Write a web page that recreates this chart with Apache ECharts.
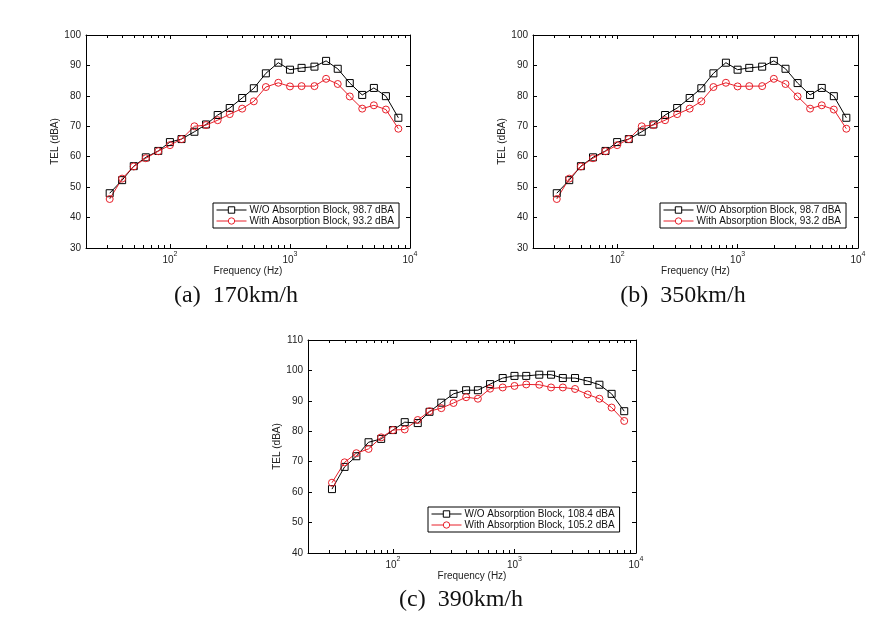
<!DOCTYPE html>
<html>
<head>
<meta charset="utf-8">
<script src="https://cdn.jsdelivr.net/npm/echarts@6/dist/echarts.min.js"></script>
<style>
html,body{margin:0;padding:0;background:#fff;}
#main{width:892px;height:625px;}
</style>
</head>
<body>
<div id="main"></div>
<script>
// ---- data ----
var freqs = [31.5, 40, 50, 63, 80, 100, 125, 160, 200, 250, 315, 400, 500, 630, 800, 1000, 1250, 1600, 2000, 2500, 3150, 4000, 5000, 6300, 8000];

var woA = [48.0, 52.3, 56.9, 59.8, 61.9, 64.8, 65.8, 68.2, 70.6, 73.7, 76.0, 79.3, 82.5, 87.4, 90.9, 88.6, 89.2, 89.6, 91.5, 88.9, 84.2, 80.3, 82.6, 79.9, 72.8];
var withA = [46.1, 52.8, 56.8, 59.5, 61.8, 63.8, 65.8, 70.0, 70.4, 72.0, 74.0, 75.8, 78.2, 82.9, 84.3, 83.1, 83.2, 83.2, 85.6, 83.9, 79.8, 75.8, 76.9, 75.5, 69.2];

var woB = [48.0, 52.3, 56.9, 59.8, 61.9, 64.8, 65.8, 68.2, 70.6, 73.7, 76.0, 79.3, 82.5, 87.4, 90.9, 88.6, 89.2, 89.6, 91.5, 88.9, 84.2, 80.3, 82.6, 79.9, 72.8];
var withB = [46.1, 52.8, 56.8, 59.5, 61.8, 63.8, 65.8, 70.0, 70.4, 72.0, 74.0, 75.8, 78.2, 82.9, 84.3, 83.1, 83.2, 83.2, 85.6, 83.9, 79.8, 75.8, 76.9, 75.5, 69.2];

var woC = [61.0, 68.3, 71.8, 76.4, 77.5, 80.4, 83.0, 82.7, 86.4, 89.4, 92.3, 93.5, 93.5, 95.5, 97.5, 98.2, 98.2, 98.6, 98.6, 97.5, 97.5, 96.5, 95.3, 92.3, 86.6];
var withC = [63.1, 69.8, 72.8, 74.2, 78.0, 80.4, 80.6, 83.7, 86.6, 87.6, 89.3, 91.2, 90.7, 94.0, 94.4, 94.9, 95.4, 95.3, 94.4, 94.4, 93.9, 92.1, 90.7, 87.8, 83.4];

var namesA = ['W/O Absorption Block, 98.7 dBA', 'With Absorption Block, 93.2 dBA'];
var namesB = ['W/O Absorption Block, 98.7 dBA', 'With Absorption Block, 93.2 dBA'];
var namesC = ['W/O Absorption Block, 108.4 dBA', 'With Absorption Block, 105.2 dBA'];

var captions = ['(a)  170km/h', '(b)  350km/h', '(c)  390km/h'];
var yRanges = [[30, 100], [30, 100], [40, 110]];
var xRange = [20, 10000];
var minorTickVals = [30, 40, 50, 60, 70, 80, 90, 200, 300, 400, 500, 600, 700, 800, 900, 2000, 3000, 4000, 5000, 6000, 7000, 8000, 9000];

// ---- layout ----
var grids = [
  {left: 86, top: 35, width: 324, height: 213},
  {left: 533, top: 35, width: 325, height: 213},
  {left: 308, top: 340, width: 328, height: 213}
];
var legendPos = [
  {left: 213, top: 203},
  {left: 660, top: 203},
  {left: 428, top: 507}
];
var captionPos = [[236, 296], [683, 296], [461, 600]];

var BLACK = '#000';
var RED = '#e8202a';
var FONT = 'Liberation Sans, Arial, sans-serif';

function xLabelFmt(v) {
  var p = Math.log10(v);
  var r = Math.round(p);
  if (Math.abs(p - r) > 1e-6) return '';
  return '{b|10}{s|' + r + '}';
}

var option = {
  backgroundColor: '#fff',
  animation: false,
  grid: grids.map(function (g) { return Object.assign({containLabel: false}, g); }),
  xAxis: [],
  yAxis: [],
  series: [],
  legend: [],
  graphic: []
};

var panels = [
  {wo: woA, wi: withA, names: namesA},
  {wo: woB, wi: withB, names: namesB},
  {wo: woC, wi: withC, names: namesC}
];

panels.forEach(function (p, i) {
  var yr = yRanges[i];
  option.xAxis.push({
    type: 'log', logBase: 10, gridIndex: i, position: 'bottom',
    min: xRange[0], max: xRange[1],
    name: 'Frequency (Hz)', nameLocation: 'middle', nameGap: 14,
    nameTextStyle: {fontSize: 10, fontFamily: FONT, color: '#222'},
    axisLine: {lineStyle: {color: BLACK, width: 1}},
    axisTick: {inside: true, length: 4, lineStyle: {color: BLACK}},
    axisLabel: {
      margin: 3, formatter: xLabelFmt, color: '#222',
      rich: {
        b: {fontSize: 10, fontFamily: FONT, color: '#222', padding: [4, 0, 0, 0]},
        s: {fontSize: 7, fontFamily: FONT, color: '#222', verticalAlign: 'top'}
      }
    },
    splitLine: {show: false}
  });
  option.xAxis.push({
    type: 'log', logBase: 10, gridIndex: i, position: 'top',
    min: xRange[0], max: xRange[1],
    axisLine: {lineStyle: {color: BLACK, width: 1}},
    axisTick: {inside: true, length: 4, lineStyle: {color: BLACK}},
    axisLabel: {show: false},
    splitLine: {show: false}
  });
  option.yAxis.push({
    type: 'value', gridIndex: i, position: 'left',
    min: yr[0], max: yr[1], interval: 10,
    name: 'TEL (dBA)', nameLocation: 'middle', nameGap: 26,
    nameTextStyle: {fontSize: 10, fontFamily: FONT, color: '#222'},
    axisLine: {show: true, lineStyle: {color: BLACK, width: 1}},
    axisTick: {show: true, inside: true, length: 4, lineStyle: {color: BLACK}},
    axisLabel: {margin: 5, fontSize: 10, fontFamily: FONT, color: '#222'},
    splitLine: {show: false}
  });
  option.yAxis.push({
    type: 'value', gridIndex: i, position: 'right',
    min: yr[0], max: yr[1], interval: 10,
    axisLine: {show: true, lineStyle: {color: BLACK, width: 1}},
    axisTick: {show: true, inside: true, length: 4, lineStyle: {color: BLACK}},
    axisLabel: {show: false},
    splitLine: {show: false}
  });

  var xi = 2 * i, yi = 2 * i;
  option.series.push({
    type: 'line', name: p.names[0], xAxisIndex: xi, yAxisIndex: yi,
    data: freqs.map(function (f, k) { return [f, p.wo[k]]; }),
    symbol: 'rect', symbolSize: 7,
    lineStyle: {color: BLACK, width: 1},
    itemStyle: {color: 'rgba(255,255,255,0)', borderColor: BLACK, borderWidth: 1},
    z: 3
  });
  option.series.push({
    type: 'line', name: p.names[1], xAxisIndex: xi, yAxisIndex: yi,
    data: freqs.map(function (f, k) { return [f, p.wi[k]]; }),
    symbol: 'circle', symbolSize: 7,
    lineStyle: {color: RED, width: 1},
    itemStyle: {color: 'rgba(255,255,255,0)', borderColor: RED, borderWidth: 1},
    z: 3
  });
  // minor ticks on the log axis (bottom and top), positioned through the axis scale
  option.series.push({
    type: 'custom', xAxisIndex: xi, yAxisIndex: yi, silent: true, z: 5,
    data: minorTickVals.map(function (v) { return [v, yr[0]]; }),
    renderItem: function (params, api) {
      var pt = api.coord([api.value(0), api.value(1)]);
      var cs = params.coordSys;
      var x = Math.round(pt[0]) + 0.5;
      var yb = cs.y + cs.height, yt = cs.y;
      return {
        type: 'group',
        children: [
          {type: 'line', shape: {x1: x, y1: yb, x2: x, y2: yb - 3}, style: {stroke: BLACK, lineWidth: 1}},
          {type: 'line', shape: {x1: x, y1: yt, x2: x, y2: yt + 3}, style: {stroke: BLACK, lineWidth: 1}}
        ]
      };
    }
  });

  option.legend.push({
    data: p.names.map(function (n, k) {
      return {name: n, itemStyle: {color: '#fff', borderColor: k === 0 ? BLACK : RED, borderWidth: 1}};
    }),
    left: legendPos[i].left, top: legendPos[i].top,
    orient: 'vertical',
    backgroundColor: '#fff',
    borderColor: BLACK, borderWidth: 1, borderRadius: 0,
    padding: [2, 5, 2, 3],
    itemGap: 1, itemWidth: 30, itemHeight: 8,
    lineStyle: {width: 1},
    textStyle: {fontSize: 10, fontFamily: FONT, color: '#111', padding: [0, 0, 0, -2]},
    selectedMode: false
  });
});

option.graphic = captions.map(function (c, i) {
  return {
    type: 'text', x: captionPos[i][0], y: captionPos[i][1],
    style: {
      text: c,
      font: '24px "Liberation Serif", "DejaVu Serif", serif',
      fill: '#111', align: 'center', verticalAlign: 'middle'
    }
  };
});

var chart = echarts.init(document.getElementById('main'), null, {renderer: 'canvas'});
chart.setOption(option);
</script>
</body>
</html>
